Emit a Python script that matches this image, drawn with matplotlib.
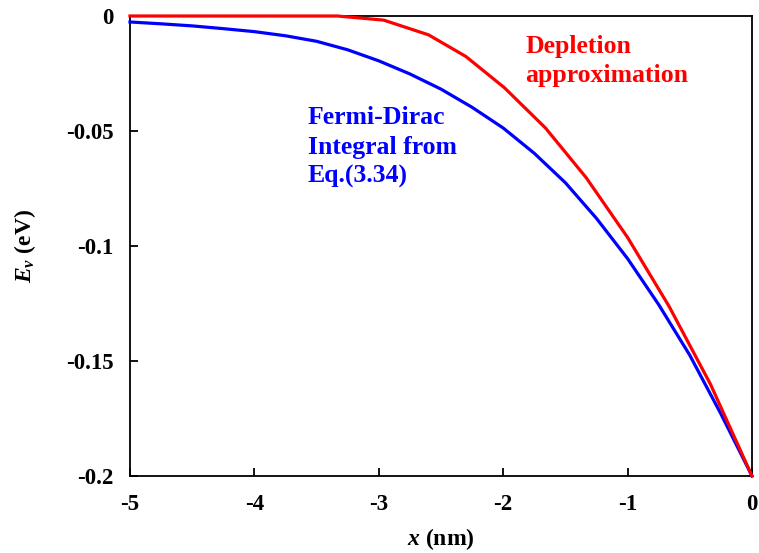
import matplotlib
matplotlib.use("Agg")
import matplotlib.pyplot as plt
import numpy as np

plt.rcParams['font.family'] = ['Liberation Serif', 'DejaVu Serif']
plt.rcParams['mathtext.fontset'] = 'custom'
plt.rcParams['mathtext.rm'] = 'Liberation Serif:bold'
plt.rcParams['mathtext.it'] = 'Liberation Serif:bold:italic'
plt.rcParams['mathtext.bf'] = 'Liberation Serif:bold'
plt.rcParams['axes.unicode_minus'] = False

# Depletion approximation (red)
x_dep = [-5.0, -4.667, -4.333, -4.0, -3.667, -3.333, -2.96, -2.6, -2.3,
         -1.99, -1.66, -1.333, -1.0, -0.667, -0.333, 0.0]
E_dep = [0.0, 0.0, 0.0, 0.0, 0.0, 0.0, -0.0018, -0.0082, -0.0176,
         -0.0312, -0.0487, -0.0703, -0.0963, -0.1262, -0.1602, -0.2000]

# Fermi-Dirac integral (blue)
x_fd = [-5.0, -4.75, -4.5, -4.25, -4.0, -3.75, -3.5, -3.25, -3.0, -2.75, -2.5,
        -2.25, -2.0, -1.75, -1.5, -1.25, -1.0, -0.75, -0.5, -0.25, 0.0]
E_fd = [-0.0026, -0.0034, -0.0043, -0.0055, -0.0068, -0.0086, -0.0110, -0.0147,
        -0.0195, -0.0252, -0.0318, -0.0397, -0.0487, -0.0597, -0.0725, -0.0880,
        -0.1055, -0.1255, -0.1475, -0.1730, -0.2000]

xticks = [-5, -4, -3, -2, -1, 0]
xtick_labels = ['-5', '-4', '-3', '-2', '-1', '0']
yticks = [0, -0.05, -0.1, -0.15, -0.2]
ytick_labels = ['0', '-0.05', '-0.1', '-0.15', '-0.2']

fig = plt.figure(figsize=(7.59, 5.53), dpi=100)
ax = fig.add_axes([130/759, 1-476/553, (752-130)/759, (476-16)/553])

ax.plot(x_fd, E_fd, color='#0000FF', lw=2.3, clip_on=False, zorder=5,
        solid_joinstyle='round')
ax.plot(x_dep, E_dep, color='#FF0000', lw=2.3, clip_on=False, zorder=6,
        solid_joinstyle='round')

ax.set_xlim(-5, 0)
ax.set_ylim(-0.2, 0)
ax.set_xticks(xticks)
ax.set_xticklabels(xtick_labels, fontweight='bold', fontsize=16.5)
ax.set_yticks(yticks)
ax.set_yticklabels(ytick_labels, fontweight='bold', fontsize=16.5)
ax.tick_params(axis='both', direction='in', length=6, width=1.3,
               top=False, right=False)
ax.tick_params(axis='y', pad=12)
ax.tick_params(axis='x', pad=13)
for s in ax.spines.values():
    s.set_linewidth(1.3)
    s.set_color('black')

ax.set_xlabel('$x$ (nm)', fontweight='bold', fontsize=17, labelpad=8)
ax.set_ylabel('$E_v$ (eV)', fontweight='bold', fontsize=17, labelpad=20)

ax.text(-3.57, -0.0726, 'Fermi-Dirac\nIntegral from\nEq.(3.34)', color='#0000FF',
        fontsize=18.5, fontweight='bold', ha='left', va='baseline', linespacing=1.35)
ax.text(-1.82, -0.0287, 'Depletion\napproximation', color='#FF0000',
        fontsize=18.5, fontweight='bold', ha='left', va='baseline', linespacing=1.35)

fig.savefig('out.png', dpi=100)
